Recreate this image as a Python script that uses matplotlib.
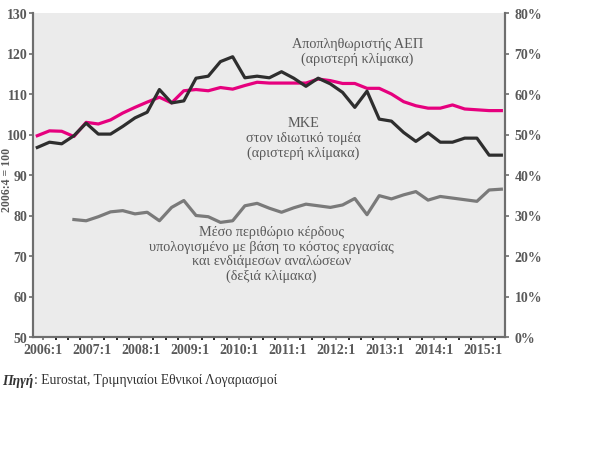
import numpy as np
import matplotlib
matplotlib.use("Agg")
import matplotlib.pyplot as plt

plt.rcParams['font.family'] = ['Liberation Serif', 'DejaVu Serif']

# quarters 2006:1 .. 2015:3
quarters = [f"{y}:{q}" for y in range(2006, 2016) for q in range(1, 5)][:39]

# GDP deflator (left scale)
deflator = [99.7, 100.9, 100.8, 99.5, 103.0, 102.6, 103.6, 105.3, 106.7, 108.0,
            109.2, 107.8, 110.8, 111.1, 110.8, 111.6, 111.2, 112.1, 112.9, 112.7,
            112.7, 112.7, 112.7, 113.7, 113.3, 112.6, 112.6, 111.4, 111.4, 110.0,
            108.1, 107.1, 106.5, 106.5, 107.3, 106.3, 106.1, 105.9, 105.9]

# ULC private sector (left scale)
ulc = [96.8, 98.1, 97.7, 99.7, 102.8, 100.1, 100.1, 102.0, 104.1, 105.5,
       111.1, 107.8, 108.3, 113.9, 114.4, 118.0, 119.2, 114.0, 114.4, 114.0,
       115.5, 113.9, 111.9, 113.9, 112.5, 110.4, 106.7, 110.7, 103.8, 103.3,
       100.5, 98.3, 100.4, 98.1, 98.1, 99.1, 99.1, 94.9, 94.9]

# average mark-up (right scale, %), starts 2006:4
markup = [None, None, None, 29.0, 28.7, 29.7, 30.9, 31.2, 30.4, 30.8,
          28.7, 32.0, 33.7, 30.0, 29.7, 28.3, 28.7, 32.4, 33.0, 31.8,
          30.8, 31.9, 32.8, 32.4, 32.0, 32.6, 34.2, 30.2, 34.9, 34.1,
          35.1, 35.9, 33.8, 34.7, 34.3, 33.9, 33.5, 36.3, 36.5]

x = np.arange(len(quarters))
mk = np.array([np.nan if v is None else v for v in markup])

fig = plt.figure(figsize=(6.14, 4.6), dpi=100)
ax = fig.add_axes([33/614, 1-338/460, 472/614, 324/460])
ax2 = ax.twinx()

txt = '#595959'
axc = '#6e6e6e'

ax.set_facecolor('#ebebeb')
ax.plot(x, deflator, color='#e6007e', lw=2.3, zorder=3)
ax.plot(x, ulc, color='#2e2e2e', lw=2.3, zorder=4)
ax2.plot(x, mk, color='#7a7a7a', lw=2.3)

ax.set_xlim(-0.35, 38.3)
ax.set_ylim(50, 130)
ax2.set_ylim(0, 80)
ax.set_yticks(range(50, 131, 10))
ax2.set_yticks(range(0, 81, 10))
ax2.set_yticklabels([f"{v}%" for v in range(0, 81, 10)])

ax.set_xticks([i + 0.5 for i in range(0, 38)], minor=True)
ax.set_xticks([i + 0.5 for i in range(0, 39, 4)])
ax.set_xticklabels([quarters[i] for i in range(0, 39, 4)])

for a in (ax, ax2):
    a.spines['top'].set_visible(False)
    for s in ('left', 'right', 'bottom'):
        a.spines[s].set_color(axc)
        a.spines[s].set_linewidth(1.5)
    a.tick_params(colors=axc, labelcolor=txt, labelsize=10, length=3, width=1.2)
    for lab in a.get_xticklabels() + a.get_yticklabels():
        lab.set_fontweight('bold')
ax.tick_params(axis='x', which='both', length=2.5, width=1.2, pad=2)
ax.tick_params(axis='y', pad=1)
ax2.tick_params(axis='y', pad=4)

fs = 10.3
ax.text(26.2, 120.5, "Αποπληθωριστής ΑΕΠ\n(αριστερή κλίμακα)", ha='center', va='center',
        fontsize=fs, color=txt, linespacing=1.15)
ax.text(21.8, 99.3, "ΜΚΕ\nστον ιδιωτικό τομέα\n(αριστερή κλίμακα)", ha='center', va='center',
        fontsize=fs, color=txt, linespacing=1.15)
ax.text(19.2, 70.6, "Μέσο περιθώριο κέρδους\nυπολογισμένο με βάση το κόστος εργασίας\n"
        "και ενδιάμεσων αναλώσεων\n(δεξιά κλίμακα)", ha='center', va='center',
        fontsize=fs, color=txt, linespacing=1.15)

fig.text(0.002, 1-180/460, "2006:4 = 100", rotation=90, ha='left', va='center',
         fontsize=8.5, color=txt, fontweight='bold')

src1 = fig.text(0.004, 1-381/460, "Πηγή", fontsize=9.8, style='italic', fontweight='bold',
                color='#333333', va='center')
fig.canvas.draw()
bb = src1.get_window_extent().transformed(fig.transFigure.inverted())
fig.text(bb.x1, 1-381/460, ": Eurostat, Τριμηνιαίοι Εθνικοί Λογαριασμοί", fontsize=9.8,
         color='#333333', va='center')

fig.savefig("out.png", dpi=100)
